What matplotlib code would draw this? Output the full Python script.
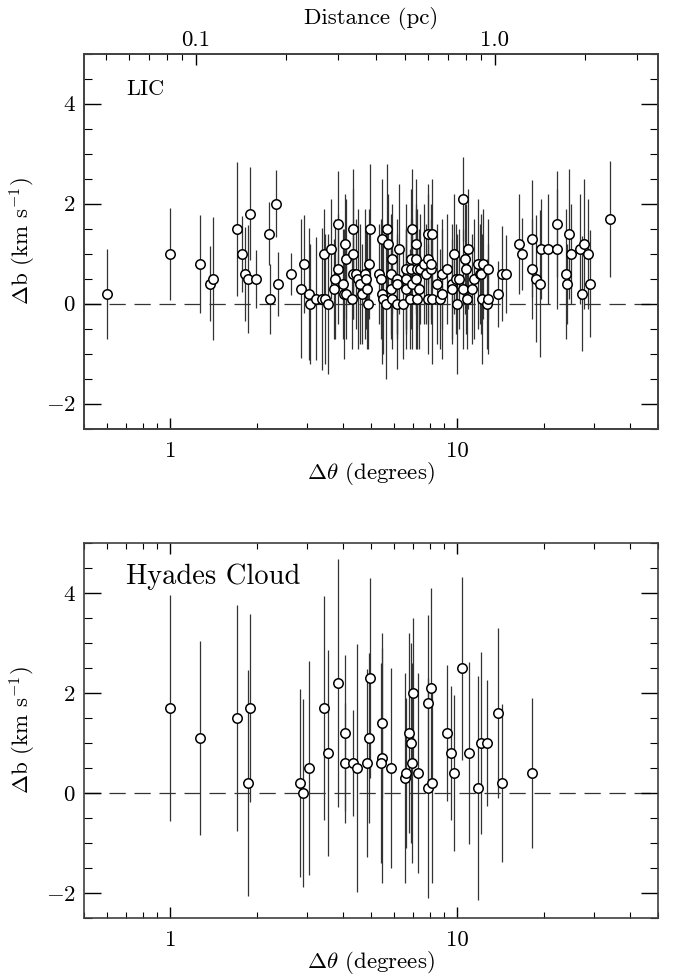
#!/usr/bin/env python3
"""
Velocity-width differences (Delta b) versus angular separation for
LIC and Hyades Cloud sight-line pairs. Writes out.png.
"""
import matplotlib
matplotlib.use('Agg')
import matplotlib.pyplot as plt
from matplotlib.ticker import LogLocator, MultipleLocator, NullFormatter

plt.rcParams['font.family'] = ['cmr10', 'DejaVu Serif']
plt.rcParams['mathtext.fontset'] = 'cm'
plt.rcParams['axes.formatter.use_mathtext'] = True

# LIC pairs: separation (deg), Delta b (km/s), 1-sigma error
lic_theta = [0.60, 1.00, 1.27, 1.37, 1.41, 1.71, 1.78, 1.82, 1.87, 1.90,
             1.99, 2.21, 2.22, 2.34, 2.37, 2.63, 2.85, 2.91, 3.05, 3.07,
             3.21, 3.37, 3.42, 3.45, 3.54, 3.63, 3.83, 3.85, 3.74, 3.71,
             4.00, 4.06, 4.10, 4.04, 4.09, 4.28, 4.34, 4.32, 4.33, 4.45,
             4.50, 4.58, 4.66, 4.75, 4.79, 4.86, 4.87, 4.92, 4.97, 5.32,
             5.43, 5.45, 5.46, 5.49, 5.66, 5.68, 5.71, 5.85, 5.88, 5.90,
             5.91, 6.14, 6.18, 6.15, 6.26, 6.45, 6.60, 6.61, 6.64, 6.82,
             6.97, 6.91, 6.92, 6.93, 7.19, 7.20, 7.21, 7.18, 7.22, 7.43,
             7.37, 7.63, 7.80, 7.88, 8.16, 7.92, 8.12, 8.10, 7.93, 8.18,
             8.49, 8.72, 8.84, 8.87, 9.21, 9.55, 9.59, 9.74, 9.90, 9.97,
             10.15, 10.42, 10.50, 10.65, 10.75, 10.93, 10.82, 11.24, 11.40, 11.80,
             11.96, 12.13, 12.29, 12.19, 12.79, 12.73, 12.83, 13.86, 14.31, 14.77,
             16.40, 16.76, 18.16, 18.26, 18.79, 19.41, 19.52, 20.70, 22.25, 22.30,
             23.99, 24.00, 24.43, 24.97, 26.70, 27.57, 27.28, 28.47, 28.93, 34.05]
lic_db = [0.2, 1.0, 0.8, 0.4, 0.5, 1.5, 1.0, 0.6, 0.5, 1.8,
          0.5, 1.4, 0.1, 2.0, 0.4, 0.6, 0.3, 0.8, 0.2, 0.0,
          0.1, 0.1, 1.0, 0.1, 0.0, 1.1, 1.6, 0.7, 0.5, 0.3,
          0.4, 1.2, 0.9, 0.2, 0.2, 0.1, 1.5, 1.0, 0.6, 0.6,
          0.5, 0.4, 0.2, 0.6, 0.5, 0.3, 0.0, 0.8, 1.5, 0.6,
          0.5, 1.3, 0.2, 0.1, 0.0, 1.5, 1.2, 0.6, 0.3, 0.9,
          0.1, 0.5, 0.4, 0.0, 1.1, 0.0, 0.7, 0.5, 0.3, 0.1,
          1.5, 0.9, 0.7, 0.4, 1.2, 0.9, 0.7, 0.5, 0.1, 0.7,
          0.3, 0.8, 0.6, 1.4, 1.4, 0.9, 0.7, 0.8, 0.1, 0.1,
          0.4, 0.1, 0.6, 0.2, 0.7, 0.4, 0.3, 1.0, 0.5, 0.0,
          0.5, 2.1, 0.3, 0.9, 0.7, 1.1, 0.1, 0.3, 0.5, 0.8,
          0.6, 0.6, 0.8, 0.1, 0.7, 0.0, 0.1, 0.2, 0.6, 0.6,
          1.2, 1.0, 1.3, 0.7, 0.5, 0.4, 1.1, 1.1, 1.6, 1.1,
          0.6, 0.4, 1.4, 1.0, 1.1, 1.2, 0.2, 1.0, 0.4, 1.7]
lic_err = [0.90, 0.92, 0.98, 0.75, 1.23, 1.34, 0.76, 0.94, 1.08, 0.93,
           0.58, 0.63, 0.70, 0.67, 0.64, 0.42, 1.39, 0.98, 1.32, 1.20,
           1.23, 1.42, 0.90, 1.30, 1.40, 1.00, 1.05, 1.10, 1.20, 1.00,
           1.10, 1.00, 1.20, 1.30, 0.90, 1.00, 1.20, 1.30, 0.90, 1.10,
           1.40, 1.20, 1.00, 1.30, 1.00, 1.20, 0.90, 1.10, 1.30, 1.00,
           1.20, 1.20, 1.40, 1.10, 1.50, 1.30, 1.00, 1.20, 1.00, 1.10,
           1.00, 1.20, 1.00, 1.30, 1.30, 1.10, 1.30, 1.00, 1.20, 1.00,
           1.20, 1.40, 1.00, 1.30, 1.30, 1.10, 1.20, 1.40, 1.00, 1.10,
           1.20, 1.20, 1.00, 1.00, 1.10, 1.30, 1.00, 1.20, 1.10, 1.30,
           1.20, 1.00, 1.10, 1.30, 1.10, 1.20, 1.00, 1.20, 1.10, 1.40,
           1.00, 0.84, 1.20, 1.10, 1.30, 1.20, 1.00, 1.10, 1.20, 1.30,
           1.00, 1.20, 1.10, 1.30, 1.00, 0.90, 1.10, 0.66, 0.95, 0.78,
           1.00, 0.72, 1.17, 1.00, 1.27, 1.47, 1.00, 1.10, 1.06, 1.20,
           1.30, 0.80, 1.30, 1.00, 1.10, 1.30, 1.15, 1.10, 1.07, 1.16]

# Hyades Cloud pairs
hya_theta = [1.00, 1.27, 1.71, 1.87, 1.90, 2.84, 2.90, 3.04, 3.42, 3.54,
             3.83, 4.06, 4.05, 4.34, 4.47, 4.84, 4.92, 4.97, 5.46, 5.45,
             5.43, 5.85, 6.59, 6.61, 6.80, 6.92, 7.00, 6.93, 7.29, 7.88,
             8.07, 7.92, 8.16, 9.22, 9.53, 9.77, 10.40, 10.95, 11.80, 12.08,
             12.68, 13.90, 14.35, 18.16]
hya_db = [1.7, 1.1, 1.5, 0.2, 1.7, 0.2, 0.0, 0.5, 1.7, 0.8,
          2.2, 1.2, 0.6, 0.6, 0.5, 0.6, 1.1, 2.3, 1.4, 0.7,
          0.6, 0.5, 0.3, 0.4, 1.2, 1.0, 2.0, 0.6, 0.4, 1.8,
          2.1, 0.1, 0.2, 1.2, 0.8, 0.4, 2.5, 0.8, 0.1, 1.0,
          1.0, 1.6, 0.2, 0.4]
hya_err = [2.26, 1.94, 2.26, 2.27, 1.88, 1.89, 1.89, 2.15, 2.25, 2.07,
           2.48, 1.56, 1.20, 1.07, 2.48, 1.88, 1.70, 2.00, 1.50, 2.50,
           2.00, 2.00, 2.10, 1.50, 2.00, 2.00, 1.50, 2.00, 2.00, 1.76,
           2.00, 2.20, 2.00, 1.37, 1.34, 1.57, 1.83, 1.83, 2.24, 1.83,
           1.27, 1.70, 1.59, 1.50]

# distance axis range matching 0.5-50 deg on the bottom axis
DIST_LIM = (0.04234, 3.516)
FS = 16.5


def style_axis(ax, top_ticks=True):
    ax.set_xscale('log')
    ax.set_xlim(0.5, 50)
    ax.set_ylim(-2.5, 5)
    ax.set_xticks([1, 10])
    ax.set_xticklabels(['1', '10'])
    ax.xaxis.set_minor_locator(LogLocator(base=10, subs=range(2, 10)))
    ax.xaxis.set_minor_formatter(NullFormatter())
    ax.yaxis.set_major_locator(MultipleLocator(2))
    ax.yaxis.set_minor_locator(MultipleLocator(0.5))
    ax.tick_params(axis='both', which='both', direction='in', labelsize=FS)
    ax.tick_params(axis='x', which='major', length=8, width=1.0, pad=9,
                   top=top_ticks)
    ax.tick_params(axis='x', which='minor', length=4, width=0.8, top=top_ticks)
    ax.tick_params(axis='y', which='major', length=12, width=1.0, right=True, pad=6)
    ax.tick_params(axis='y', which='minor', length=6, width=0.8, right=True)
    for sp in ax.spines.values():
        sp.set_linewidth(1.2)
        sp.set_color('0.25')
    ax.set_xlabel(r'$\Delta\theta$ (degrees)', fontsize=FS)
    ax.set_ylabel(r'$\Delta$b (km s$^{\mathsf{-1}}$)', fontsize=FS)
    ax.xaxis.set_label_coords(0.5, -0.083)
    ax.yaxis.set_label_coords(-0.08, 0.5)


def plot_panel(ax, theta, db, err, name, name_size):
    ax.axhline(0, color='0.2', lw=0.9, ls=(0, (13, 7)), zorder=1)
    ax.errorbar(theta, db, yerr=err, fmt='o', ms=6.8, mfc='white', mec='black',
                mew=1.1, ecolor='0.2', elinewidth=0.9, capsize=0, zorder=2)
    ax.text(0.073, 0.89, name, transform=ax.transAxes, fontsize=name_size,
            ha='left', va='baseline')


def main():
    fig = plt.figure(figsize=(6.73, 9.77), dpi=100)
    ax_top = fig.add_axes([0.1248, 0.5612, 0.8529, 0.3838])
    ax_bot = fig.add_axes([0.1248, 0.0604, 0.8529, 0.3838])

    style_axis(ax_top, top_ticks=False)
    style_axis(ax_bot, top_ticks=True)

    plot_panel(ax_top, lic_theta, lic_db, lic_err, 'LIC', 16)
    plot_panel(ax_bot, hya_theta, hya_db, hya_err, 'Hyades Cloud', 20.5)

    # secondary distance axis on the upper panel
    ax_d = ax_top.twiny()
    ax_d.set_xscale('log')
    ax_d.set_xlim(*DIST_LIM)
    ax_d.set_xticks([0.1, 1.0])
    ax_d.set_xticklabels(['0.1', '1.0'])
    ax_d.xaxis.set_minor_locator(LogLocator(base=10, subs=range(2, 10)))
    ax_d.xaxis.set_minor_formatter(NullFormatter())
    ax_d.tick_params(axis='x', which='both', direction='in', labelsize=FS)
    ax_d.tick_params(axis='x', which='major', length=8, width=1.0, pad=3)
    ax_d.tick_params(axis='x', which='minor', length=4, width=0.8)
    ax_d.set_xlabel('Distance (pc)', fontsize=FS, labelpad=4)
    for sp in ax_d.spines.values():
        sp.set_linewidth(1.2)
        sp.set_color('0.25')

    fig.savefig('out.png', dpi=100)
    plt.close(fig)


if __name__ == '__main__':
    main()
